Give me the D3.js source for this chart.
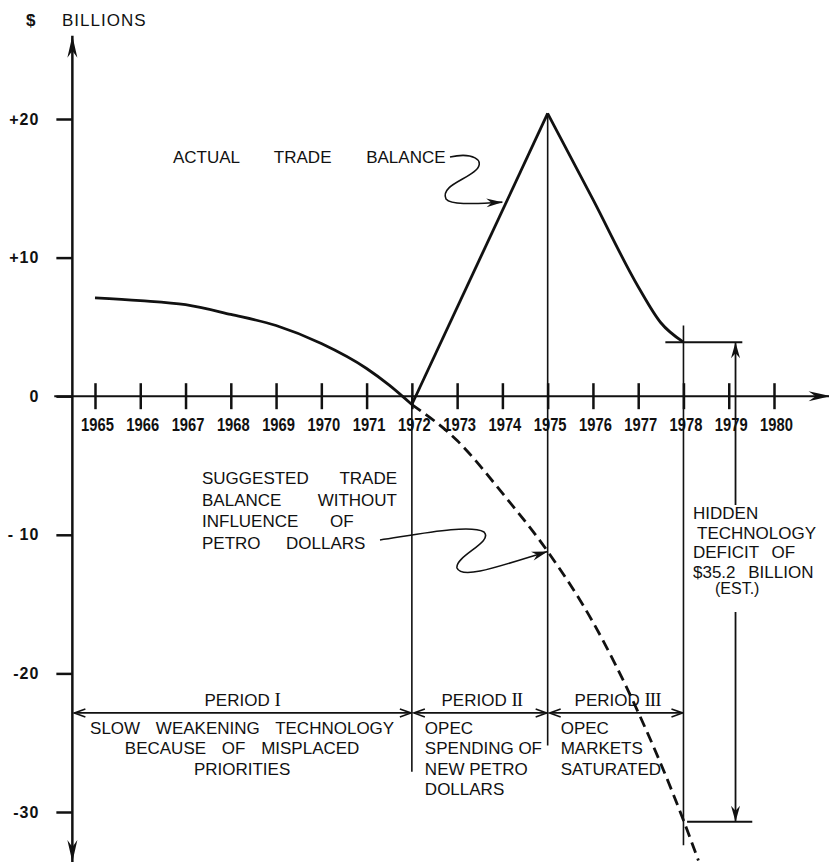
<!DOCTYPE html>
<html>
<head>
<meta charset="utf-8">
<script src="https://cdn.jsdelivr.net/npm/d3@7"></script>
<style>
  body { margin: 0; background: #fff; }
  svg text { font-family: "Liberation Sans", Arial, sans-serif; fill: #111; }
</style>
</head>
<body>
<div id="chart"></div>
<script>
// years along the bottom axis
var years = [1965, 1966, 1967, 1968, 1969, 1970, 1971, 1972, 1973, 1974, 1975, 1976, 1977, 1978, 1979, 1980];
var yTicks = [20, 10, 0, -10, -20, -30];
var yTickLabels = ["+20", "+10", "0", "- 10", "-20", "-30"];

// actual trade balance ($ billions)
var earlyYears = [1965, 1966, 1967, 1968, 1969, 1970, 1971, 1971.5, 1972];
var earlyBalance = [7.1, 6.9, 6.6, 5.9, 5.1, 3.8, 2.0, 0.8, -0.6];
var surgeYears = [1972, 1975];
var surgeBalance = [-0.6, 20.4];
var lateYears = [1975, 1976, 1977, 1977.5, 1978];
var lateBalance = [20.4, 14.2, 7.9, 5.3, 3.9];

// suggested balance without petro dollars (dashed)
var suggestedYears = [1972, 1973, 1974, 1975, 1976, 1977, 1978, 1978.33];
var suggestedBalance = [-0.6, -3.2, -7.0, -11.2, -16.3, -22.8, -30.6, -33.5];

// period separators
var separatorYears = [1972, 1975, 1978];
var separatorTop = [0, 20.4, 5.1];
var separatorBottom = [-27.1, -25.2, -32.4];

var periodNames = ["PERIOD", "PERIOD", "PERIOD"];
var periodNumerals = ["I", "II", "III"];
var periodStart = [1964.5, 1972, 1975];
var periodEnd = [1972, 1975, 1978];
var periodText = [
  ["SLOW WEAKENING TECHNOLOGY", "BECAUSE OF MISPLACED", "PRIORITIES"],
  ["OPEC", "SPENDING OF", "NEW PETRO", "DOLLARS"],
  ["OPEC", "MARKETS", "SATURATED"]
];

// hidden technology deficit bracket
var deficitTop = 3.9;
var deficitBottom = -30.7;
var deficitText = ["HIDDEN", "TECHNOLOGY", "DEFICIT  OF", "$35.2 BILLION", "(EST.)"];

var width = 829, height = 863;

var x = d3.scaleLinear().domain([1965, 1980]).range([95, 774]);
var y = d3.scaleLinear().domain([-30, 20]).range([812, 119]);
var axisX = x(1964.5);

var svg = d3.select("#chart").append("svg")
    .attr("width", width)
    .attr("height", height);

// arrow heads
var defs = svg.append("defs");
defs.append("marker")
    .attr("id", "bigHead")
    .attr("viewBox", "-24 -7 26 14")
    .attr("markerUnits", "userSpaceOnUse")
    .attr("markerWidth", 26).attr("markerHeight", 14)
    .attr("refX", 0).attr("refY", 0)
    .attr("orient", "auto-start-reverse")
  .append("path")
    .attr("d", "M0,0 L-22,-5 L-15,0 L-22,5 Z")
    .attr("fill", "#111");
defs.append("marker")
    .attr("id", "smallHead")
    .attr("viewBox", "-18 -6 20 12")
    .attr("markerUnits", "userSpaceOnUse")
    .attr("markerWidth", 20).attr("markerHeight", 12)
    .attr("refX", 0).attr("refY", 0)
    .attr("orient", "auto-start-reverse")
  .append("path")
    .attr("d", "M0,0 L-16,-4.5 L-11,0 L-16,4.5 Z")
    .attr("fill", "#111");
defs.append("marker")
    .attr("id", "openHead")
    .attr("viewBox", "-14 -6 16 12")
    .attr("markerUnits", "userSpaceOnUse")
    .attr("markerWidth", 16).attr("markerHeight", 12)
    .attr("refX", 0).attr("refY", 0)
    .attr("orient", "auto-start-reverse")
  .append("path")
    .attr("d", "M-11,-4 L0,0 L-11,4")
    .attr("fill", "none")
    .attr("stroke", "#111")
    .attr("stroke-width", 1.6);

// y axis
var yAxis = svg.append("g")
    .attr("transform", "translate(" + axisX + ",0)")
    .call(d3.axisLeft(y).tickValues(yTicks).tickSize(16).tickPadding(17)
      .tickFormat(function(d, i) { return yTickLabels[i]; }));
yAxis.select(".domain").remove();
yAxis.selectAll(".tick line").attr("stroke", "#111").attr("stroke-width", 2.5);
yAxis.selectAll(".tick text")
    .attr("font-size", 16).attr("font-weight", "bold")
    .attr("letter-spacing", 1).style("fill", "#111");

svg.append("line")
    .attr("x1", axisX).attr("x2", axisX)
    .attr("y1", y(26)).attr("y2", y(-33.6))
    .attr("stroke", "#111").attr("stroke-width", 2.5)
    .attr("marker-start", "url(#bigHead)")
    .attr("marker-end", "url(#bigHead)");

// x axis with ticks crossing the zero line
var xAxis = svg.append("g")
    .attr("transform", "translate(0," + y(0) + ")")
    .call(d3.axisBottom(x).tickValues(years).tickSize(13).tickPadding(7).tickFormat(d3.format("d")));
xAxis.select(".domain").remove();
xAxis.selectAll(".tick line").attr("y1", -13).attr("stroke", "#111").attr("stroke-width", 2.5);
xAxis.selectAll(".tick text")
    .attr("font-size", 18).attr("font-weight", "bold")
    .attr("transform", "translate(2,0) scale(0.82,1.05)")
    .style("fill", "#111");

svg.append("line")
    .attr("x1", x(1964.1)).attr("x2", x(1981.25))
    .attr("y1", y(0)).attr("y2", y(0))
    .attr("stroke", "#111").attr("stroke-width", 2)
    .attr("marker-end", "url(#bigHead)");

svg.append("text").attr("x", 26).attr("y", 26).attr("font-size", 17).attr("font-weight", "bold").text("$");
svg.append("text").attr("x", 62).attr("y", 26).attr("font-size", 17).attr("letter-spacing", 1).text("BILLIONS");

// separators
separatorYears.forEach(function(yr, i) {
  svg.append("line")
      .attr("x1", x(yr)).attr("x2", x(yr))
      .attr("y1", y(separatorTop[i])).attr("y2", y(separatorBottom[i]))
      .attr("stroke", "#111").attr("stroke-width", 1.6);
});

// actual trade balance
function pairs(xs, ys) { return xs.map(function(d, i) { return [d, ys[i]]; }); }
var smooth = d3.line().curve(d3.curveMonotoneX)
    .x(function(d) { return x(d[0]); }).y(function(d) { return y(d[1]); });
var straight = d3.line()
    .x(function(d) { return x(d[0]); }).y(function(d) { return y(d[1]); });

[smooth(pairs(earlyYears, earlyBalance)),
 straight(pairs(surgeYears, surgeBalance)),
 smooth(pairs(lateYears, lateBalance))].forEach(function(p) {
  svg.append("path").attr("d", p)
      .attr("fill", "none").attr("stroke", "#111")
      .attr("stroke-width", 2.8).attr("stroke-linejoin", "round");
});

// suggested balance (dashed)
svg.append("path")
    .attr("d", smooth(pairs(suggestedYears, suggestedBalance)))
    .attr("fill", "none").attr("stroke", "#111")
    .attr("stroke-width", 2.8).attr("stroke-dasharray", "11,6");

// period arrows and captions
var periodY = y(-22.85);
periodNames.forEach(function(name, i) {
  var x0 = i === 0 ? axisX : x(periodStart[i]);
  var x1 = x(periodEnd[i]);
  svg.append("line")
      .attr("x1", x0 + 2).attr("x2", x1 - 1)
      .attr("y1", periodY).attr("y2", periodY)
      .attr("stroke", "#111").attr("stroke-width", 1.8)
      .attr("marker-start", "url(#openHead)")
      .attr("marker-end", "url(#openHead)");
  var lbl = svg.append("text")
      .attr("x", (x0 + x1) / 2 + (i === 0 ? 0 : 2)).attr("y", periodY - 7)
      .attr("text-anchor", "middle").attr("font-size", 17);
  lbl.append("tspan").text(name + " ");
  lbl.append("tspan")
      .style("font-family", "'Liberation Serif', 'DejaVu Serif', serif")
      .attr("font-size", 19)
      .attr("letter-spacing", -1)
      .text(periodNumerals[i]);
  periodText[i].forEach(function(line, j) {
    var t = svg.append("text")
        .attr("y", periodY + 21 + j * 20.5)
        .attr("font-size", 17)
        .text(line);
    if (i === 0) {
      t.attr("x", (x0 + x1) / 2).attr("text-anchor", "middle").attr("word-spacing", 11);
    } else {
      t.attr("x", x(periodStart[i]) + 13);
    }
  });
});

// hidden technology deficit
var deficitX = x(1979.15);
svg.append("line")
    .attr("x1", x(1977.6)).attr("x2", x(1979.3))
    .attr("y1", y(deficitTop)).attr("y2", y(deficitTop))
    .attr("stroke", "#111").attr("stroke-width", 2);
svg.append("line")
    .attr("x1", x(1978.08)).attr("x2", x(1979.52))
    .attr("y1", y(deficitBottom)).attr("y2", y(deficitBottom))
    .attr("stroke", "#111").attr("stroke-width", 2);
svg.append("line")
    .attr("x1", deficitX).attr("x2", deficitX)
    .attr("y1", 505).attr("y2", y(deficitTop))
    .attr("stroke", "#111").attr("stroke-width", 1.8)
    .attr("marker-end", "url(#smallHead)");
svg.append("line")
    .attr("x1", deficitX).attr("x2", deficitX)
    .attr("y1", 612).attr("y2", y(deficitBottom))
    .attr("stroke", "#111").attr("stroke-width", 1.8)
    .attr("marker-end", "url(#smallHead)");

deficitText.forEach(function(line, j) {
  svg.append("text")
      .attr("x", j === 4 ? 715 : (j === 1 ? 697 : 693))
      .attr("y", 519 + j * 19.5 - (j === 4 ? 3 : 0))
      .attr("font-size", j === 4 ? 16 : 17)
      .attr("word-spacing", 8)
      .text(line);
});

// labels with curly pointer arrows
svg.append("text")
    .attr("x", 173).attr("y", 163)
    .attr("font-size", 17).attr("word-spacing", 30)
    .text("ACTUAL TRADE BALANCE");

var tip1 = [x(1974), y(14)];
var p1 = d3.path();
p1.moveTo(450, 157);
p1.bezierCurveTo(472, 152, 486, 160, 476, 170);
p1.bezierCurveTo(466, 180, 440, 186, 446, 199);
p1.bezierCurveTo(452, 206, 480, tip1[1] + 1, tip1[0], tip1[1]);
svg.append("path").attr("d", p1.toString())
    .attr("fill", "none").attr("stroke", "#111").attr("stroke-width", 1.6)
    .attr("marker-end", "url(#smallHead)");

var suggestLines = [["SUGGESTED", "TRADE"], ["BALANCE", "WITHOUT"], ["INFLUENCE", "OF"], ["PETRO", "DOLLARS"]];
suggestLines.forEach(function(words, j) {
  var yy = 484 + j * 21.5;
  svg.append("text").attr("x", 202).attr("y", yy).attr("font-size", 17).text(words[0]);
  var t = svg.append("text").attr("y", yy).attr("font-size", 17).text(words[1]);
  if (j < 2) t.attr("x", 397).attr("text-anchor", "end");
  else t.attr("x", j === 2 ? 330 : 286);
});

var tip2 = [x(1975), y(-11.2)];
var p2 = d3.path();
p2.moveTo(380, 540);
p2.bezierCurveTo(420, 534, 470, 524, 484, 532);
p2.bezierCurveTo(494, 542, 455, 556, 457, 568);
p2.bezierCurveTo(462, 580, 500, 566, tip2[0], tip2[1]);
svg.append("path").attr("d", p2.toString())
    .attr("fill", "none").attr("stroke", "#111").attr("stroke-width", 1.6)
    .attr("marker-end", "url(#smallHead)");
</script>
</body>
</html>
